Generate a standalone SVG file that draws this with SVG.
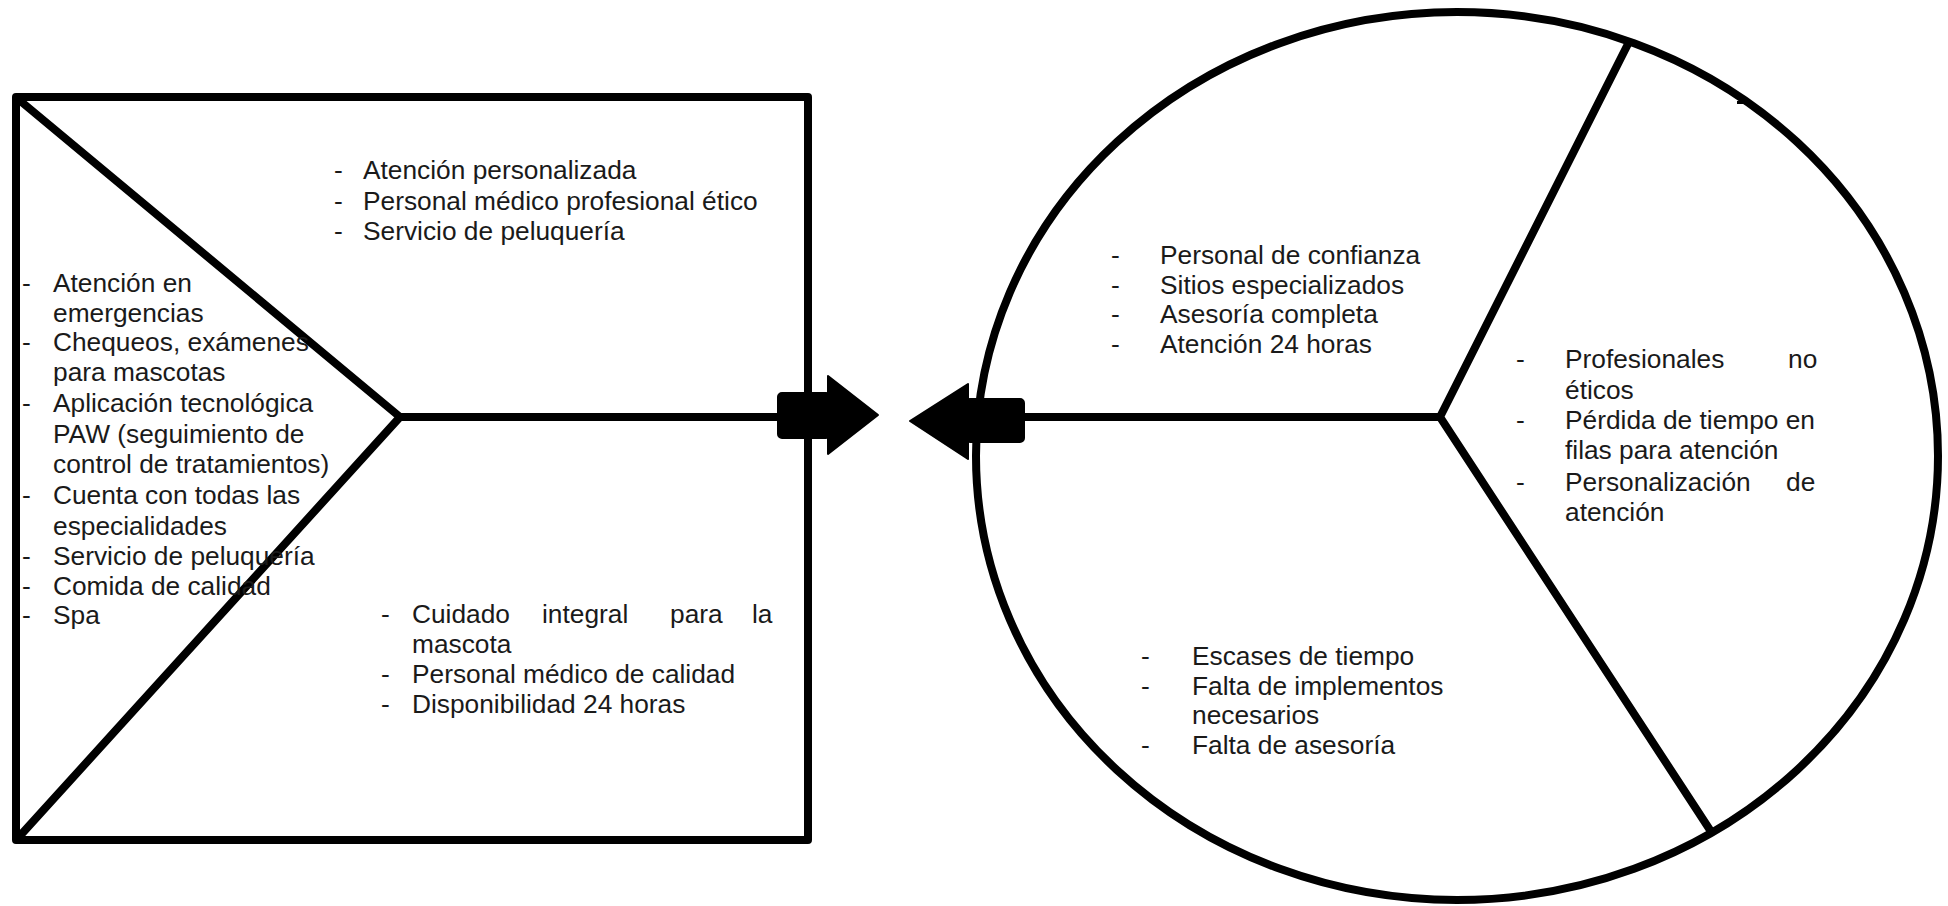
<svg xmlns="http://www.w3.org/2000/svg" width="1948" height="906" viewBox="0 0 1948 906">
<style>
.ln{fill:none;stroke:#000;stroke-width:8;stroke-linejoin:round;stroke-linecap:butt}
.ar{fill:#000;stroke:#000;stroke-width:2;stroke-linejoin:round}
text{font-family:"Liberation Sans",Arial,sans-serif;font-size:26.3px;fill:#1a1a1a}
</style>
<rect width="1948" height="906" fill="#fff"/>
<g id="box">
<rect class="ln" x="16" y="97" width="792" height="743"/>
<polyline class="ln" points="18,99 400,417 18,838"/>
</g>
<g id="circle">
<ellipse class="ln" cx="1457" cy="456" rx="481" ry="444"/>
<polyline class="ln" points="1630,40 1440,417 1710,830"/>
<rect x="1737" y="101" width="8" height="3" fill="#000"/>
</g>
<g id="connectors">
<line class="ln" x1="400" y1="417" x2="790" y2="417"/>
<line class="ln" x1="1020" y1="417" x2="1440" y2="417"/>
<rect class="ar" x="778" y="393" width="52" height="45" rx="4"/>
<polygon class="ar" points="828,376 878,415 828,454"/>
<rect class="ar" x="966" y="399" width="58" height="43" rx="4"/>
<polygon class="ar" points="968,384 910,421 968,459"/>
</g>
<g id="left-list">
<text x="22" y="292">-</text><text x="53" y="292">Atención en</text>
<text x="53" y="322">emergencias</text>
<text x="22" y="351">-</text><text x="53" y="351">Chequeos, exámenes</text>
<text x="53" y="381">para mascotas</text>
<text x="22" y="412">-</text><text x="53" y="412">Aplicación tecnológica</text>
<text x="53" y="443">PAW (seguimiento de</text>
<text x="53" y="473">control de tratamientos)</text>
<text x="22" y="504">-</text><text x="53" y="504">Cuenta con todas las</text>
<text x="53" y="535">especialidades</text>
<text x="22" y="565">-</text><text x="53" y="565">Servicio de peluquería</text>
<text x="22" y="595">-</text><text x="53" y="595">Comida de calidad</text>
<text x="22" y="624">-</text><text x="53" y="624">Spa</text>
</g>
<g id="top-list">
<text x="334" y="179">-</text><text x="363" y="179">Atención personalizada</text>
<text x="334" y="210">-</text><text x="363" y="210">Personal médico profesional ético</text>
<text x="334" y="240">-</text><text x="363" y="240">Servicio de peluquería</text>
</g>
<g id="bottom-list">
<text x="381" y="623">-</text><text x="412" y="623">Cuidado</text><text x="542" y="623">integral</text><text x="670" y="623">para</text><text x="752" y="623">la</text>
<text x="412" y="653">mascota</text>
<text x="381" y="683">-</text><text x="412" y="683">Personal médico de calidad</text>
<text x="381" y="713">-</text><text x="412" y="713">Disponibilidad 24 horas</text>
</g>
<g id="circle-top">
<text x="1111" y="264">-</text><text x="1160" y="264">Personal de confianza</text>
<text x="1111" y="294">-</text><text x="1160" y="294">Sitios especializados</text>
<text x="1111" y="323">-</text><text x="1160" y="323">Asesoría completa</text>
<text x="1111" y="353">-</text><text x="1160" y="353">Atención 24 horas</text>
</g>
<g id="circle-right">
<text x="1516" y="368">-</text><text x="1565" y="368">Profesionales</text><text x="1788" y="368">no</text>
<text x="1565" y="399">éticos</text>
<text x="1516" y="429">-</text><text x="1565" y="429">Pérdida de tiempo en</text>
<text x="1565" y="459">filas para atención</text>
<text x="1516" y="491">-</text><text x="1565" y="491">Personalización</text><text x="1786" y="491">de</text>
<text x="1565" y="521">atención</text>
</g>
<g id="circle-bottom">
<text x="1141" y="665">-</text><text x="1192" y="665">Escases de tiempo</text>
<text x="1141" y="695">-</text><text x="1192" y="695">Falta de implementos</text>
<text x="1192" y="724">necesarios</text>
<text x="1141" y="754">-</text><text x="1192" y="754">Falta de asesoría</text>
</g>
</svg>
